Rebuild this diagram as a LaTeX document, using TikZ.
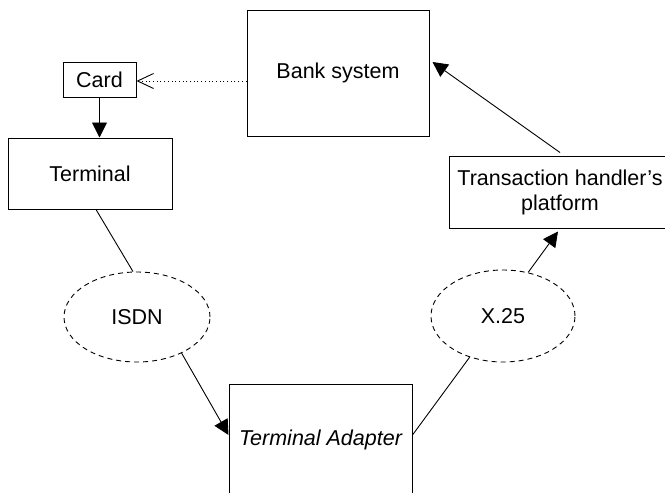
\documentclass[tikz,border=0pt]{standalone}
\usepackage{fontspec}
\setmainfont{Liberation Sans}
\usetikzlibrary{arrows.meta,shapes.geometric}

\tikzset{
  box/.style={draw, line width=1pt, rectangle, inner sep=0pt, align=center},
  net/.style={draw, ellipse, dash pattern=on 5pt off 4pt, line width=0.9pt, inner sep=0pt},
  link/.style={line width=0.9pt},
  flow/.style={line width=0.9pt, -{Triangle[length=15pt,width=15pt]}},
  hint/.style={line width=1pt, dash pattern=on 1pt off 2.7pt,
               -{Straight Barb[length=16pt,width=15pt,line width=0.9pt]}},
}

\begin{document}
\begin{tikzpicture}[x=1pt, y=-1pt, font=\fontsize{21.5}{25}\selectfont]
  \useasboundingbox (0,0) rectangle (665,493);
  \clip (0,0) rectangle (665,493);

  % blocks
  \node[box, minimum width=182pt, minimum height=126pt] (bank)  at (338,73)    {Bank system};
  \node[box, minimum width=73pt,  minimum height=35pt]  (card)  at (99.5,79.5) {Card};
  \node[box, minimum width=164pt, minimum height=71pt]  (term)  at (90,173.5)  {Terminal};
  \node[box, minimum width=222pt, minimum height=72pt]  (trans) at (560,192)   {Transaction handler's\\platform};
  \node[box, minimum width=183pt, minimum height=112pt] (ta)    at (320.5,440) {\itshape Terminal Adapter};

  % networks
  \node[net, minimum width=146pt, minimum height=90pt] (isdn) at (137,317) {ISDN};
  \node[net, minimum width=144pt, minimum height=92pt] (x25)  at (503,316) {X.25};

  % connections
  \coordinate (dotstart) at ([yshift=-8pt]bank.west);
  \draw[hint] (dotstart) -- (dotstart -| card.east);
  \draw[flow] (card.south) -- (card.south |- term.north);
  \draw[link] ([xshift=6pt]term.south) -- (isdn.95);
  \draw[flow] (isdn.-39) -- ([yshift=5pt]ta.west);
  \draw[link] ([yshift=5pt]ta.east) -- (x25.-129);
  \draw[flow] (x25.60) -- ([xshift=-2pt,yshift=-3pt]trans.south);
  \draw[flow] ([xshift=0pt,yshift=3pt]trans.north) -- ([xshift=3pt,yshift=11pt]bank.east);
\end{tikzpicture}
\end{document}
